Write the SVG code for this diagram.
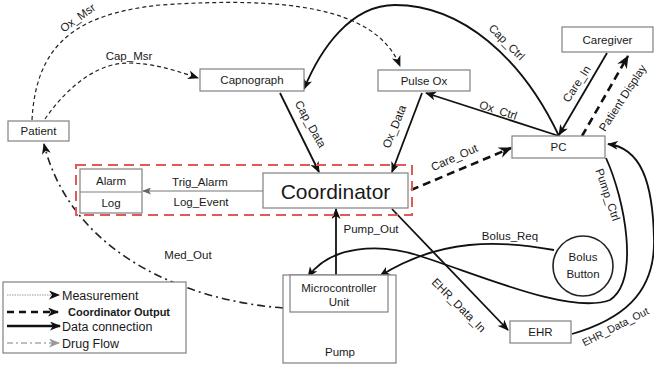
<svg xmlns="http://www.w3.org/2000/svg" width="654" height="366" viewBox="0 0 654 366">
<defs>
<style>
text{font-family:"Liberation Sans",Arial,sans-serif;fill:#1a1a1a}
.n{font-size:11.5px;text-anchor:middle}
.l{font-size:11.5px;text-anchor:middle}
.lg{font-size:12.5px}
.box{fill:#fff;stroke:#808080;stroke-width:1.2}
.msr{fill:none;stroke:#222;stroke-width:1.2;stroke-dasharray:4 3;marker-end:url(#ah)}
.out{fill:none;stroke:#111;stroke-width:2.6;stroke-dasharray:8 5;marker-end:url(#ahb)}
.dat{fill:none;stroke:#111;stroke-width:1.8;marker-end:url(#ah)}
.drug{fill:none;stroke:#222;stroke-width:1.6;stroke-dasharray:8 4 2 4;marker-end:url(#ah)}
</style>
<marker id="ah" markerUnits="userSpaceOnUse" markerWidth="11" markerHeight="9" refX="10" refY="4.5" orient="auto"><path d="M0,0 L11,4.5 L0,9 L3,4.5 z" fill="#111"/></marker>
<marker id="ahb" markerUnits="userSpaceOnUse" markerWidth="13" markerHeight="11" refX="12" refY="5.5" orient="auto"><path d="M0,0 L13,5.5 L0,11 L4,5.5 z" fill="#111"/></marker>
<marker id="ahg" markerUnits="userSpaceOnUse" markerWidth="9" markerHeight="7" refX="8" refY="3.5" orient="auto"><path d="M0,0 L9,3.5 L0,7 L2,3.5 z" fill="#666"/></marker>
<marker id="ahl" markerUnits="userSpaceOnUse" markerWidth="11" markerHeight="9" refX="10" refY="4.5" orient="auto"><path d="M0,0 L11,4.5 L0,9 L3,4.5 z" fill="#999"/></marker>
</defs>
<rect width="654" height="366" fill="#fff"/>

<g id="connectors">
  <path id="ox-msr" class="msr" d="M32,120 C36,45 75,14 160,5 C280,-3 375,5 400,66"/>
  <path id="cap-msr" class="msr" d="M45,119 C65,90 95,63 128,63 C155,63 180,72 198,78"/>
  <path id="cap-data" class="dat" d="M280,93 L319,172"/>
  <path id="cap-ctrl" class="dat" d="M559,136 C522,58 462,5 395,5 C350,5 320,50 304,89"/>
  <path id="ox-ctrl" class="dat" d="M559,136 L426,93"/>
  <path id="ox-data" class="dat" d="M422,93 L392,172"/>
  <path id="care-in" class="dat" d="M607,53 L559,135"/>
  <path id="patient-display" class="out" d="M582,136 L628,56"/>
  <path id="care-out" class="out" d="M411,190 L511,148"/>
  <path id="trig-alarm" fill="none" stroke="#777" stroke-width="1.2" marker-end="url(#ahg)" d="M263,191 L143,191"/>
  <path id="pump-out" class="dat" d="M336,275 L336,209"/>
  <path id="med-out" class="drug" d="M283,308 C180,300 70,250 44,144"/>
  <path id="bolus-req" class="dat" d="M554,250 C500,240 440,238 380,276"/>
  <path id="pump-ctrl" class="dat" d="M606,158 C625,200 640,280 610,300 C570,315 480,275 420,256 C380,243 330,245 308,277"/>
  <path id="ehr-data-in" class="dat" d="M392,209 L508,330"/>
  <path id="ehr-data-out" class="dat" d="M572,334 C620,320 655,295 654,240 C653,180 640,148 608,144"/>
</g>

<g id="edge-labels">
  <text class="l" transform="translate(80,21) rotate(-36)">Ox_Msr</text>
  <text class="l" x="129" y="60">Cap_Msr</text>
  <text class="l" transform="translate(307,126) rotate(61)">Cap_Data</text>
  <text class="l" transform="translate(504,45) rotate(45)">Cap_Ctrl</text>
  <text class="l" transform="translate(497,114) rotate(18)">Ox_Ctrl</text>
  <text class="l" transform="translate(398,128) rotate(-68)">Ox_Data</text>
  <text class="l" transform="translate(580,86) rotate(-57)">Care_In</text>
  <text class="l" transform="translate(626,100) rotate(-57)">Patient Display</text>
  <text class="l" transform="translate(456,161) rotate(-24)">Care_Out</text>
  <text class="l" x="200" y="186">Trig_Alarm</text>
  <text class="l" x="201" y="206">Log_Event</text>
  <text class="l" x="371" y="233">Pump_Out</text>
  <text class="l" x="188" y="259">Med_Out</text>
  <text class="l" x="510" y="240">Bolus_Req</text>
  <text class="l" transform="translate(604,196) rotate(71)">Pump_Ctrl</text>
  <text class="l" transform="translate(456,308) rotate(45)">EHR_Data_In</text>
  <text transform="translate(617,330) rotate(-27)" style="font-size:10.5px;text-anchor:middle">EHR_Data_Out</text>
</g>

<g id="patient"><rect class="box" x="8" y="121" width="61" height="20"/><text class="n" x="38.5" y="135">Patient</text></g>
<g id="capnograph"><rect class="box" x="200" y="69" width="104" height="22"/><text class="n" x="252" y="84">Capnograph</text></g>
<g id="pulse-ox"><rect class="box" x="378" y="70" width="92" height="21"/><text class="n" x="424" y="84.5">Pulse Ox</text></g>
<g id="caregiver"><rect class="box" x="562" y="27" width="91" height="25"/><text class="n" x="607.5" y="43.5">Caregiver</text></g>
<g id="pc"><rect class="box" x="512" y="136" width="93" height="22"/><text class="n" x="558.5" y="151">PC</text></g>
<g id="coordinator-group">
  <rect x="76" y="165" width="336" height="50" fill="none" stroke="#e05a5a" stroke-width="2" stroke-dasharray="10 6"/>
  <g id="alarm-log"><rect class="box" x="80" y="169" width="62" height="44"/><line x1="80" y1="192" x2="142" y2="192" stroke="#808080" stroke-width="1.2"/><text class="n" x="111" y="185">Alarm</text><text class="n" x="111" y="207">Log</text></g>
  <g id="coordinator"><rect class="box" x="263" y="173" width="145" height="35"/><text x="335.5" y="198.5" style="font-size:21px;text-anchor:middle">Coordinator</text></g>
</g>
<g id="pump"><rect class="box" x="283" y="275" width="113" height="88"/><text class="n" x="340" y="356">Pump</text>
  <g id="microcontroller"><rect class="box" x="290" y="275" width="98" height="37"/><text class="n" x="339" y="292">Microcontroller</text><text class="n" x="339" y="306">Unit</text></g>
</g>
<g id="bolus-button"><circle cx="583" cy="266" r="30" fill="#fff" stroke="#222" stroke-width="1.6"/><text class="n" x="583" y="261">Bolus</text><text class="n" x="583" y="278">Button</text></g>
<g id="ehr"><rect class="box" x="510" y="321" width="61" height="22"/><text class="n" x="540.5" y="336">EHR</text></g>

<g id="legend">
  <rect x="3" y="282" width="183" height="71" fill="#fff" stroke="#808080" stroke-width="1.2"/>
  <line x1="7" y1="295" x2="59" y2="295" stroke="#999" stroke-width="1.2" stroke-dasharray="1.5 1" marker-end="url(#ah)"/>
  <text class="lg" x="62" y="299.5">Measurement</text>
  <line x1="7" y1="312" x2="58" y2="312" stroke="#111" stroke-width="2.6" stroke-dasharray="7 5" marker-end="url(#ah)"/>
  <text x="68" y="316" style="font-size:11px;font-weight:bold">Coordinator Output</text>
  <line x1="7" y1="326" x2="60" y2="326" stroke="#111" stroke-width="2.6" marker-end="url(#ah)"/>
  <text class="lg" x="62" y="330.5">Data connection</text>
  <line x1="7" y1="343" x2="59" y2="343" stroke="#aaa" stroke-width="1.3" stroke-dasharray="6 3 2 3" marker-end="url(#ahl)"/>
  <text class="lg" x="62" y="347.5">Drug Flow</text>
</g>
</svg>
